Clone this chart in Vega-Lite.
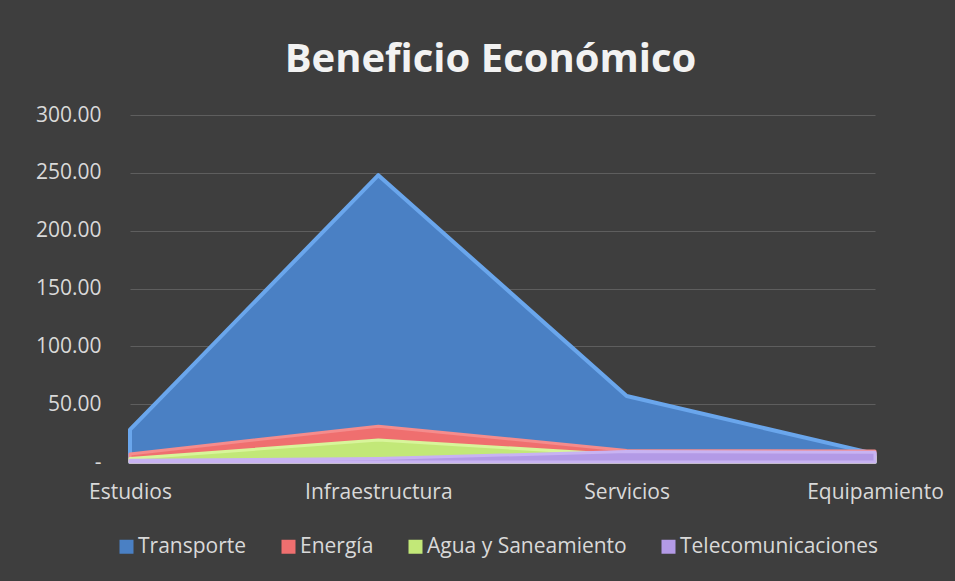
{
  "$schema": "https://vega.github.io/schema/vega-lite/v6.json",
  "autosize": "none",
  "width": 745,
  "height": 347,
  "padding": {"left": 130, "top": 115, "right": 80, "bottom": 119},
  "background": "#3e3e3e",
  "title": {
    "text": "Beneficio Económico",
    "font": "Open Sans",
    "fontSize": 40,
    "fontWeight": "bold",
    "color": "#f2f2f2",
    "anchor": "middle",
    "offset": 24,
    "dx": -12
  },
  "config": {
    "view": {"stroke": null},
    "font": "Open Sans"
  },
  "data": {
    "values": [
      {"categoria": "Estudios", "serie": "Transporte", "valor": 28},
      {"categoria": "Infraestructura", "serie": "Transporte", "valor": 248},
      {"categoria": "Servicios", "serie": "Transporte", "valor": 57},
      {"categoria": "Equipamiento", "serie": "Transporte", "valor": 7},
      {"categoria": "Estudios", "serie": "Energía", "valor": 7},
      {"categoria": "Infraestructura", "serie": "Energía", "valor": 31},
      {"categoria": "Servicios", "serie": "Energía", "valor": 10},
      {"categoria": "Equipamiento", "serie": "Energía", "valor": 9.5},
      {"categoria": "Estudios", "serie": "Agua y Saneamiento", "valor": 3},
      {"categoria": "Infraestructura", "serie": "Agua y Saneamiento", "valor": 19},
      {"categoria": "Servicios", "serie": "Agua y Saneamiento", "valor": 6},
      {"categoria": "Equipamiento", "serie": "Agua y Saneamiento", "valor": 5},
      {"categoria": "Estudios", "serie": "Telecomunicaciones", "valor": 1.5},
      {"categoria": "Infraestructura", "serie": "Telecomunicaciones", "valor": 3},
      {"categoria": "Servicios", "serie": "Telecomunicaciones", "valor": 9},
      {"categoria": "Equipamiento", "serie": "Telecomunicaciones", "valor": 8.5}
    ]
  },
  "encoding": {
    "x": {
      "field": "categoria",
      "type": "nominal",
      "sort": ["Estudios", "Infraestructura", "Servicios", "Equipamiento"],
      "scale": {"type": "point", "padding": 0},
      "axis": {
        "title": null,
        "labelAngle": 0,
        "labelFont": "Open Sans",
        "labelFontSize": 21,
        "labelColor": "#d9d9d9",
        "labelPadding": 19,
        "labelLimit": 0,
        "ticks": false,
        "grid": false,
        "domain": true,
        "domainColor": "#5a5a5a",
        "domainWidth": 1,
        "encode": {
          "labels": {"update": {"dx": {"signal": "datum.value === 'Equipamiento' ? -14 : 0"}}}
        }
      }
    },
    "y": {
      "field": "valor",
      "type": "quantitative",
      "stack": null,
      "scale": {"domain": [0, 300], "nice": false},
      "axis": {
        "title": null,
        "values": [0, 50, 100, 150, 200, 250, 300],
        "labelExpr": "datum.value == 0 ? '-' : format(datum.value, ',.2f')",
        "labelFont": "Open Sans",
        "labelFontSize": 21,
        "labelColor": "#d9d9d9",
        "labelPadding": 29,
        "ticks": false,
        "domain": false,
        "grid": true,
        "gridColor": "#5e5e5e",
        "gridWidth": 1,
        "encode": {
          "labels": {"update": {"dx": {"signal": "datum.value === 0 ? -11 : 0"}}}
        }
      }
    },
    "color": {
      "field": "serie",
      "type": "nominal",
      "scale": {
        "domain": ["Transporte", "Energía", "Agua y Saneamiento", "Telecomunicaciones"],
        "range": ["#4a80c4", "#ef6f6f", "#c2e878", "#b39ae6"]
      },
      "legend": {
        "orient": "none",
        "legendX": -14,
        "legendY": 421,
        "direction": "horizontal",
        "title": null,
        "symbolType": "square",
        "symbolSize": 196,
        "symbolStrokeWidth": 0,
        "labelFont": "Open Sans",
        "labelFontSize": 21,
        "labelColor": "#d9d9d9",
        "labelOffset": 1,
        "labelLimit": 0,
        "columnPadding": 31,
        "encode": {
          "symbols": {"update": {"fill": {"signal": "datum.value === 'Transporte' ? '#4f81bd' : datum.value === 'Energía' ? '#c0504d' : datum.value === 'Agua y Saneamiento' ? '#9bbb59' : '#8064a2'"}}}
        }
      }
    },
    "stroke": {
      "field": "serie",
      "type": "nominal",
      "scale": {
        "domain": ["Transporte", "Energía", "Agua y Saneamiento", "Telecomunicaciones"],
        "range": ["#6aa6ec", "#f58c8c", "#d8f59a", "#c8b3f2"]
      },
      "legend": null
    }
  },
  "layer": [
    {"transform": [{"filter": "datum.serie === 'Transporte'"}], "mark": {"type": "area", "opacity": 1, "strokeWidth": 4, "strokeJoin": "round"}},
    {"transform": [{"filter": "datum.serie === 'Energía'"}], "mark": {"type": "area", "opacity": 1, "strokeWidth": 3, "strokeJoin": "round"}},
    {"transform": [{"filter": "datum.serie === 'Agua y Saneamiento'"}], "mark": {"type": "area", "opacity": 1, "strokeWidth": 3, "strokeJoin": "round"}},
    {"transform": [{"filter": "datum.serie === 'Telecomunicaciones'"}], "mark": {"type": "area", "opacity": 1, "strokeWidth": 3, "strokeJoin": "round"}}
  ]
}
